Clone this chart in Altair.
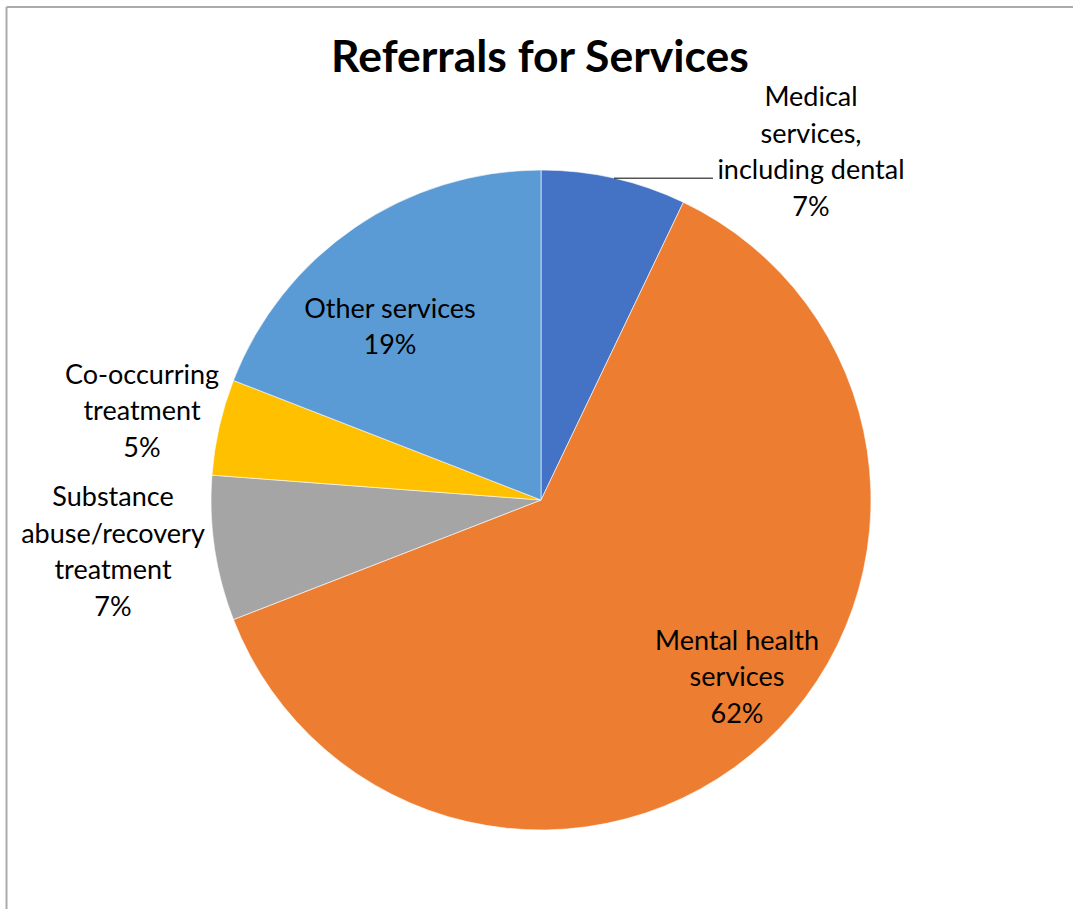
import altair as alt
import pandas as pd

# ---- data ----
categories = [
    "Medical services, including dental",
    "Mental health services",
    "Substance abuse/recovery treatment",
    "Co-occurring treatment",
    "Other services",
]
values = [7.1, 62.0, 7.1, 4.7, 19.1]
label_names = [
    "Medical\nservices,\nincluding dental",
    "Mental health\nservices",
    "Substance\nabuse/recovery\ntreatment",
    "Co-occurring\ntreatment",
    "Other services",
]

# ---- styling / layout ----
colors = ["#4472C4", "#ED7D31", "#A5A5A5", "#FFC000", "#5B9BD5"]
# label block centre, offset from the pie centre (pixels)
label_dx = [270, 196, -428, -399, -151]
label_dy = [-347, 178, 53, -88, -172]
FONT = "Lato"
FS = 27
LH = 36.5
W, H = 1064, 818
PIE_R = 330

df = pd.DataFrame({
    "idx": list(range(len(categories))),
    "category": categories,
    "value": values,
    "name": label_names,
    "ldx": label_dx,
    "ldy": label_dy,
})

base = alt.Chart(df).transform_joinaggregate(
    total="sum(value)"
).transform_window(
    cum="sum(value)", sort=[alt.SortField("idx")], frame=[None, 0]
).transform_calculate(
    mid="(datum.cum - datum.value / 2) / datum.total",
    label="datum.name + '\\n' + format(datum.value / datum.total, '.0%')",
).transform_calculate(
    nlines="length(split(datum.label, '\\n'))",
    ex=f"{W/2} + {PIE_R} * sin(2 * PI * datum.mid)",
    ey=f"{H/2} - {PIE_R} * cos(2 * PI * datum.mid)",
).transform_calculate(
    lx=f"{W/2} + datum.ldx",
    ly=f"{H/2} + datum.ldy - (datum.nlines - 1) / 2 * {LH}",
)

color = alt.Color("category:N", scale=alt.Scale(domain=categories, range=colors), legend=None)

pie = alt.Chart(df).mark_arc(outerRadius=PIE_R, stroke="white", strokeWidth=0.6).encode(
    theta=alt.Theta("value:Q", stack=True),
    color=color,
    order=alt.Order("idx:Q"),
)

labels = base.mark_text(
    font=FONT, fontSize=FS, color="black", align="center", baseline="middle",
    lineBreak="\n", lineHeight=LH,
).encode(
    x=alt.X("lx:Q", scale=None),
    y=alt.Y("ly:Q", scale=None),
    text="label:N",
)

leader = base.transform_filter("datum.idx == 0").transform_calculate(
    ex2="datum.ex + 99"
).mark_rule(color="black", strokeWidth=1).encode(
    x=alt.X("ex:Q", scale=None),
    x2="ex2:Q",
    y=alt.Y("ey:Q", scale=None),
)

title = alt.Chart(df).transform_filter("datum.idx == 0").mark_text(
    font=FONT, fontSize=44.5, fontWeight="bold", color="black",
    align="center", baseline="middle",
).encode(
    x=alt.value(W / 2 - 1), y=alt.value(-32), text=alt.value("Referrals for Services")
)

border_left = alt.Chart(df).transform_filter("datum.idx == 0").mark_rule(
    color="#ABABAB", strokeWidth=2
).encode(x=alt.value(-2.5), y=alt.value(-84), y2=alt.value(H + 5))
border_top = alt.Chart(df).transform_filter("datum.idx == 0").mark_rule(
    color="#ABABAB", strokeWidth=2
).encode(x=alt.value(-2.5), x2=alt.value(W + 5), y=alt.value(-84))

chart = alt.layer(
    pie, leader, labels, title, border_left, border_top
).properties(
    width=W,
    height=H,
    padding={"left": 9, "top": 91, "right": 0, "bottom": 0},
    autosize=alt.AutoSizeParams(type="none"),
    background="white",
).configure_view(stroke=None)

chart.save("out.html", embed_options={"renderer": "svg", "actions": False})
